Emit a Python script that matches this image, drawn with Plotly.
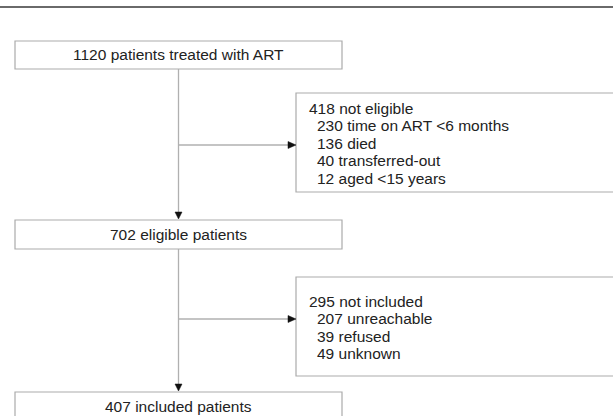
import plotly.graph_objects as go

# ---- content ----
main_labels = ["1120 patients treated with ART", "702 eligible patients", "407 included patients"]
excl1_header = "418 not eligible"
excl1_items = ["230 time on ART <6 months", "136 died", "40 transferred-out", "12 aged <15 years"]
excl2_header = "295 not included"
excl2_items = ["207 unreachable", "39 refused", "49 unknown"]

# ---- layout geometry (pixels, y downward) ----
W, H = 613, 416
main_x0, main_x1 = 15, 342
main_boxes_y = [(41, 69), (220, 249), (392, 422)]
side_x0, side_x1 = 296, 700
side_boxes_y = [(93, 192), (277, 376)]
arrow_y = [145, 319]
line_h = 17.5
header_x, item_x = 307, 315
side_text_top = [108, 301]

BOX_COL = "#ababab"
LINE_COL = "#b0b0b0"
TXT_COL = "#222222"
FONT = "Liberation Sans, Arial, sans-serif"
FS = 15.5

fig = go.Figure()
fig.add_trace(go.Scatter(x=[0, W], y=[0, H], mode="markers", marker=dict(opacity=0), hoverinfo="skip", showlegend=False))

shapes = []
annotations = []

# top rule
shapes.append(dict(type="line", x0=0, x1=W, y0=7, y1=7, line=dict(color="#6a6a6a", width=2)))

cx = (main_x0 + main_x1) / 2
for (y0, y1), lab in zip(main_boxes_y, main_labels):
    shapes.append(dict(type="rect", x0=main_x0, x1=main_x1, y0=y0, y1=y1,
                       line=dict(color=BOX_COL, width=1.2), fillcolor="white"))
    yc = (y0 + y1) / 2 - 0.5 if y1 < 420 else y0 + 14
    annotations.append(dict(x=cx, y=yc, text=lab, showarrow=False, xanchor="center", yanchor="middle",
                            font=dict(family=FONT, size=FS, color=TXT_COL)))

for (y0, y1) in side_boxes_y:
    shapes.append(dict(type="rect", x0=side_x0, x1=side_x1, y0=y0, y1=y1,
                       line=dict(color=BOX_COL, width=1.2), fillcolor="white"))

# vertical connectors with arrowheads
for i in range(2):
    top = main_boxes_y[i][1]
    tip = main_boxes_y[i + 1][0] - 1
    shapes.append(dict(type="line", x0=cx, x1=cx, y0=top, y1=tip - 6, line=dict(color=LINE_COL, width=1.3)))
    shapes.append(dict(type="path", path=f"M {cx-3.5} {tip-7} L {cx+3.5} {tip-7} L {cx} {tip} Z",
                       fillcolor="#111111", line=dict(color="#111111", width=0.5)))
    ay = arrow_y[i]
    shapes.append(dict(type="line", x0=cx, x1=side_x0 - 7, y0=ay, y1=ay, line=dict(color=LINE_COL, width=1.3)))
    shapes.append(dict(type="path", path=f"M {side_x0-8} {ay-3.5} L {side_x0-8} {ay+3.5} L {side_x0} {ay} Z",
                       fillcolor="#111111", line=dict(color="#111111", width=0.5)))

# side box text
for (header, items, ytop) in [(excl1_header, excl1_items, side_text_top[0]),
                              (excl2_header, excl2_items, side_text_top[1])]:
    annotations.append(dict(x=header_x, y=ytop, text=header, showarrow=False, xanchor="left", yanchor="middle",
                            font=dict(family=FONT, size=FS, color=TXT_COL)))
    for k, it in enumerate(items):
        annotations.append(dict(x=item_x, y=ytop + (k + 1) * line_h, text=it, showarrow=False,
                                xanchor="left", yanchor="middle",
                                font=dict(family=FONT, size=FS, color=TXT_COL)))

fig.update_layout(
    width=W, height=H, margin=dict(l=0, r=0, t=0, b=0),
    paper_bgcolor="white", plot_bgcolor="white",
    xaxis=dict(range=[0, W], visible=False, fixedrange=True),
    yaxis=dict(range=[H, 0], visible=False, fixedrange=True),
    shapes=shapes, annotations=annotations, showlegend=False,
)

fig.write_html("out.html", config={"displayModeBar": False},
               post_script="document.body.style.margin='0';document.body.style.overflow='hidden';")
